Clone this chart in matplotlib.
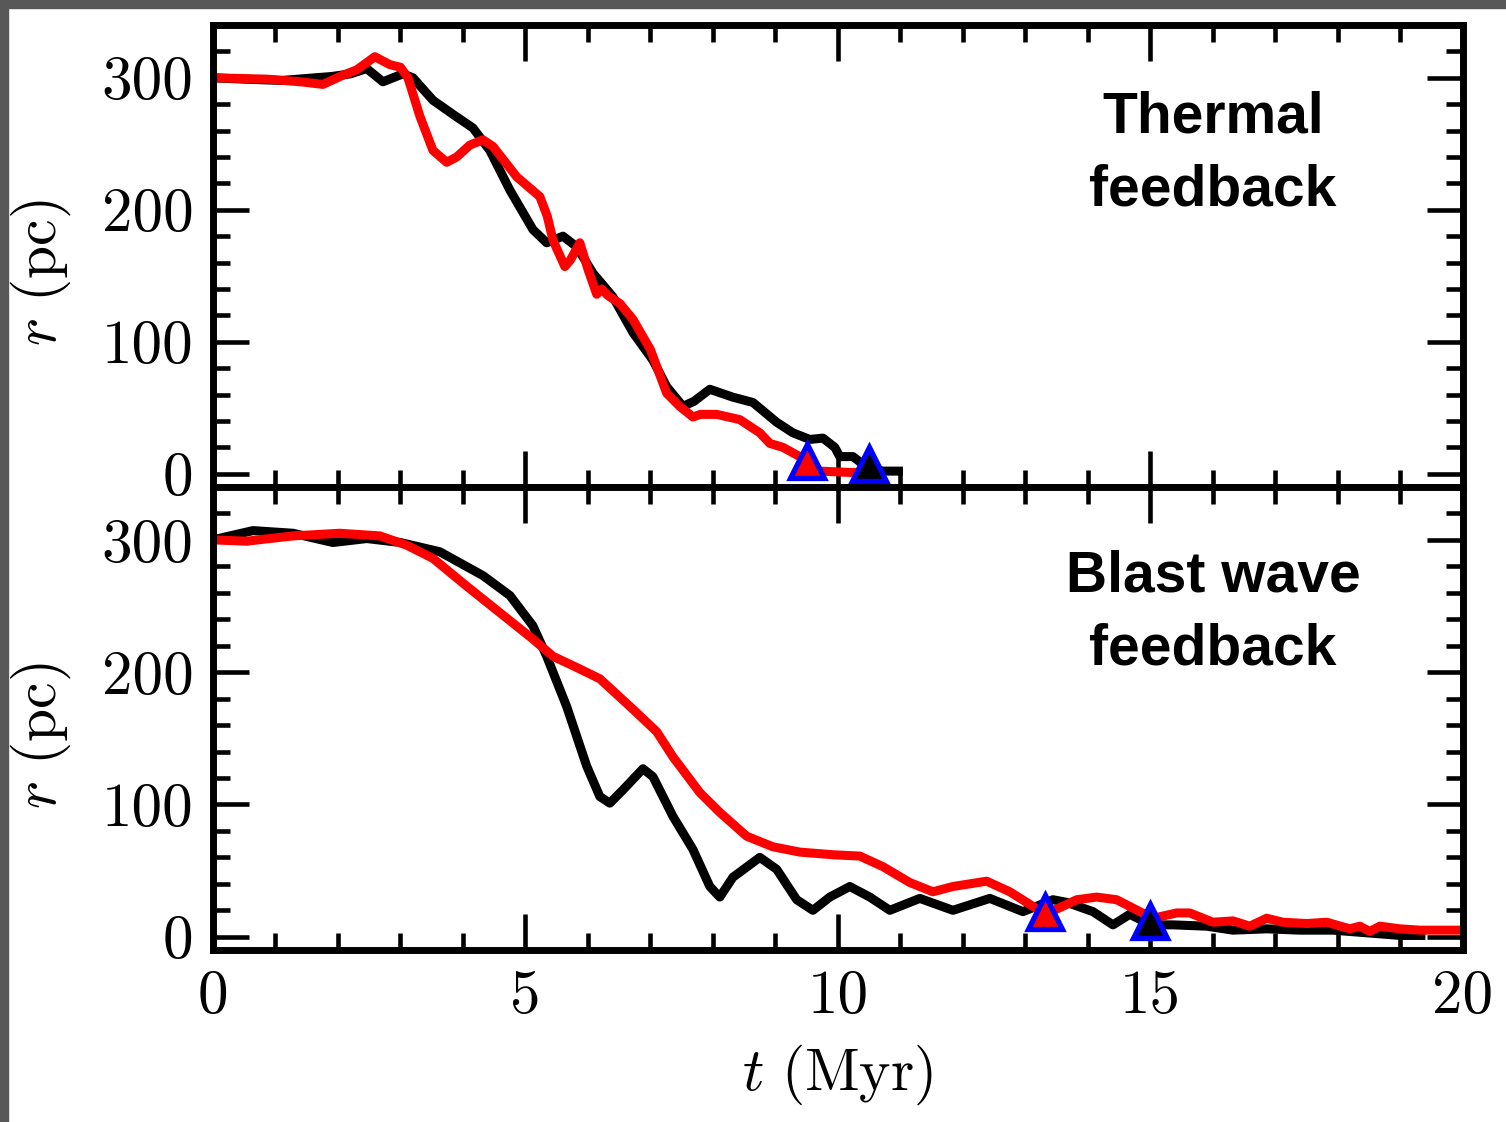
import matplotlib
matplotlib.use("Agg")
import matplotlib.pyplot as plt
from matplotlib.patches import Rectangle

plt.rcParams['font.family'] = 'serif'
plt.rcParams['font.serif'] = ['cmr10']
plt.rcParams['mathtext.fontset'] = 'cm'
plt.rcParams['axes.formatter.use_mathtext'] = True

# thermal feedback run (upper panel)
th_black_t = [0, 0.5, 1.1, 1.9, 2.2, 2.46, 2.72, 3.04, 3.2, 3.52, 3.85, 4.16, 4.43, 4.75,
              5.12, 5.34, 5.6, 5.82, 6.08, 6.4, 6.72, 7.04, 7.26, 7.52, 7.7, 7.95, 8.32,
              8.64, 9.02, 9.28, 9.55, 9.76, 9.95, 10.03, 10.24, 10.46, 10.72, 11.04]
th_black_r = [300, 299, 298, 301, 303, 307, 297, 303, 300, 283, 272, 262, 245, 215,
              185, 175, 180, 172, 152, 134, 107, 86, 66, 51, 55, 64, 58,
              54, 39, 31, 26, 27, 20, 13, 13, 5, 2, 2]
th_red_t = [0, 0.86, 1.4, 1.76, 2.08, 2.3, 2.59, 2.83, 3.0, 3.12, 3.31, 3.52, 3.74, 3.9,
            4.11, 4.32, 4.48, 4.86, 5.23, 5.35, 5.44, 5.63, 5.72, 5.87, 6.0, 6.14, 6.22,
            6.32, 6.51, 6.72, 7.0, 7.26, 7.47, 7.68, 7.8, 8.06, 8.43, 8.75, 8.91, 9.12,
            9.39, 9.71, 10.19, 10.3]
th_red_r = [300, 299, 297, 295, 302, 306, 316, 310, 308, 300, 271, 245, 236, 240,
            249, 253, 248, 225, 210, 195, 177, 157, 162, 175, 155, 136, 140,
            135, 129, 117, 94, 61, 51, 43, 45, 45, 41, 31, 23, 20,
            13, 2, 1, 1]

# blast wave feedback run (lower panel)
bw_black_t = [0, 0.27, 0.64, 1.28, 1.92, 2.46, 3.0, 3.63, 4.32, 4.75, 5.12, 5.34, 5.66,
              5.98, 6.19, 6.35, 6.56, 6.88, 7.04, 7.36, 7.68, 7.95, 8.11, 8.32, 8.75,
              9.02, 9.34, 9.6, 9.87, 10.19, 10.51, 10.83, 11.31, 11.84, 12.43, 12.96,
              13.44, 13.66, 14.08, 14.4, 14.67, 15.0, 15.36, 15.9, 16.32, 16.86, 17.39,
              17.92, 18.46, 18.99, 19.4]
bw_black_r = [300, 303, 307, 305, 298, 301, 298, 291, 273, 258, 235, 212, 174,
              129, 106, 101, 111, 127, 121, 91, 66, 38, 30, 45, 60,
              51, 28, 20, 30, 38, 30, 20, 29, 20, 29, 19,
              28, 26, 19, 9, 17, 9, 9, 8, 5, 6, 5,
              5, 3, 1, 1]
bw_red_t = [0, 0.54, 1.28, 2.03, 2.67, 3.1, 3.52, 4.06, 4.59, 5.12, 5.44, 5.8, 6.19,
            6.72, 7.1, 7.36, 7.79, 8.11, 8.54, 8.96, 9.39, 9.92, 10.35, 10.72, 11.15,
            11.52, 11.84, 12.38, 12.75, 13.12, 13.31, 13.55, 13.82, 14.14, 14.46,
            14.83, 15.04, 15.42, 15.63, 16.0, 16.32, 16.59, 16.86, 17.12, 17.5, 17.82,
            18.19, 18.35, 18.51, 18.67, 18.99, 19.31, 19.58, 20.0]
bw_red_r = [300, 299, 303, 305, 303, 296, 286, 265, 245, 225, 212, 204, 195,
            172, 155, 136, 109, 94, 76, 68, 64, 62, 61, 53, 41,
            34, 38, 42, 34, 23, 17, 22, 28, 30, 28,
            19, 14, 18, 18, 11, 12, 8, 14, 11, 10, 11,
            6, 8, 4, 8, 6, 5, 5, 5]

# triangle markers (t, r)
th_marks = [(9.5, 9.5, 'red'), (10.5, 7.6, 'black')]
bw_marks = [(13.31, 19, 'red'), (15.0, 11.6, 'black')]

panel_text = ["Thermal\nfeedback", "Blast wave\nfeedback"]
yticks = [0, 100, 200, 300]
xticks = [0, 5, 10, 15, 20]

fig = plt.figure(figsize=(15.06, 11.22), dpi=100)
ax1 = fig.add_axes([0.1414, 0.5660, 0.8300, 0.4117])
ax2 = fig.add_axes([0.1414, 0.1533, 0.8300, 0.4127])

# screenshot frame
fig.patches.append(Rectangle((0, 0), 7.5 / 1506, 1, transform=fig.transFigure,
                             color='#585858', zorder=-10))
fig.patches.append(Rectangle((0, 1 - 7.5 / 1122), 1, 7.5 / 1122, transform=fig.transFigure,
                             color='#585858', zorder=-10))

data = [(ax1, th_black_t, th_black_r, th_red_t, th_red_r, th_marks, 0.72),
        (ax2, bw_black_t, bw_black_r, bw_red_t, bw_red_r, bw_marks, 0.727)]

for i, (ax, bt, br, rt, rr, marks, ty) in enumerate(data):
    ax.plot(bt, br, color='black', lw=6.5, solid_joinstyle='round', solid_capstyle='butt')
    ax.plot(rt, rr, color='red', lw=6.5, solid_joinstyle='round', solid_capstyle='butt')
    for mt, mr, c in marks:
        ax.plot(mt, mr, marker='^', ms=25, mfc=c, mec='blue', mew=3.8, zorder=5)
    ax.set_xlim(0, 20)
    ax.set_ylim(-10, 340)
    ax.set_xticks(xticks)
    ax.set_xticks(range(0, 21), minor=True)
    ax.set_yticks(yticks)
    ax.set_yticklabels([str(v) for v in yticks])
    ax.set_yticks(range(0, 341, 20), minor=True)
    ax.tick_params(which='both', direction='in', top=True, right=True, width=3.3,
                   labelsize=44, pad=14)
    ax.tick_params(which='major', length=26)
    ax.tick_params(which='minor', length=12)
    for s in ax.spines.values():
        s.set_linewidth(5)
    ax.set_ylabel(r'$r\ (\mathrm{pc})$', fontsize=43)
    ax.yaxis.set_label_coords(-0.112, 0.463)
    ax.text(0.80, ty, panel_text[i], transform=ax.transAxes, ha='center', va='center',
            fontsize=41, family='Liberation Sans', weight='bold', linespacing=1.45)

ax1.tick_params(labelbottom=False)
ax2.set_xticklabels([str(v) for v in xticks])
ax2.set_xlabel(r'$t\ (\mathrm{Myr})$', fontsize=43)
ax2.xaxis.set_label_coords(0.5, -0.2)

fig.savefig('out.png', dpi=100)
